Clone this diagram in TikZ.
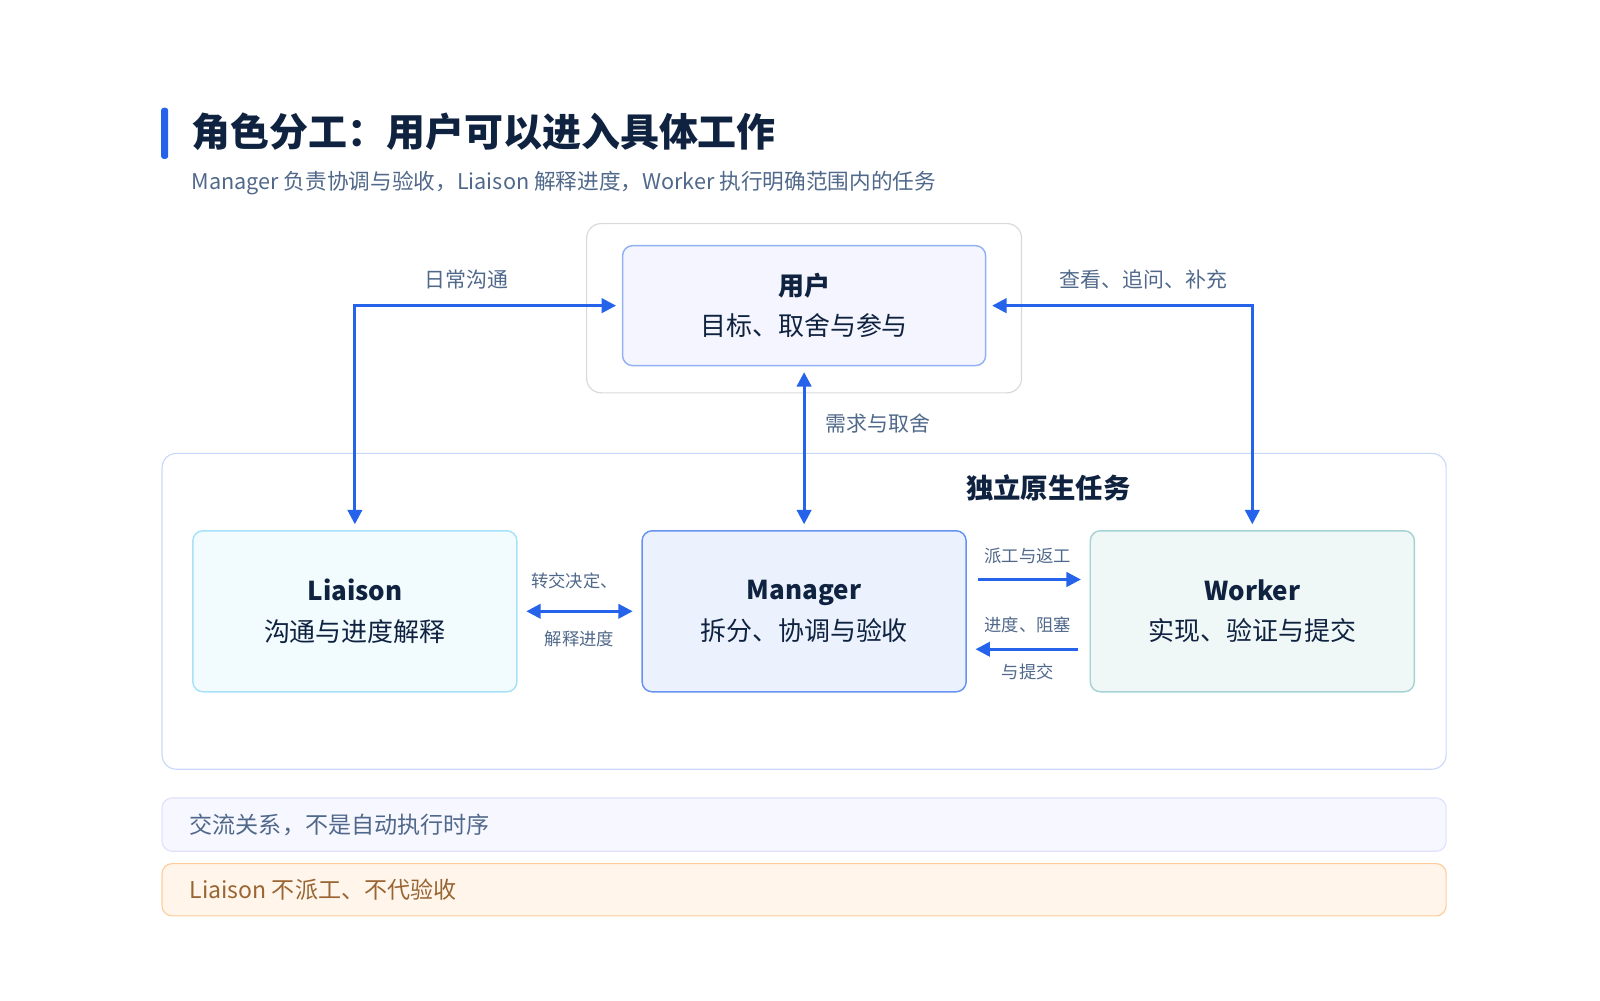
\documentclass[tikz,border=0pt]{standalone}
\usepackage{fontspec}
\setmainfont{Noto Sans CJK SC}
\usetikzlibrary{arrows.meta,positioning}
\definecolor{flow}{HTML}{2563EB}
\definecolor{ink}{HTML}{0F2340}
\definecolor{muted}{HTML}{50688A}
\tikzset{
  card/.style={draw,rounded corners=7pt,line width=1pt,minimum width=316*0.025cm,minimum height=157*0.025cm,align=center,text=ink,font=\fontsize{18}{28}\selectfont},
  frame/.style={draw=#1,rounded corners=10pt,line width=0.8pt},
  link/.style={draw=flow,line width=2pt,-{Triangle[length=10pt,width=10pt]}},
  twin/.style={link,{Triangle[length=10pt,width=10pt]}-{Triangle[length=10pt,width=10pt]}},
  tag/.style={text=muted,font=\fontsize{14.5}{18}\selectfont},
  small/.style={text=muted,font=\fontsize{12}{15}\selectfont},
}
\begin{document}
\begin{tikzpicture}[x=0.025cm,y=-0.025cm]
\useasboundingbox (0,0) rectangle (1560,975);
% heading
\fill[flow,rounded corners=2pt] (157,105) rectangle (164,155);
\node[anchor=west,text=ink,font=\fontsize{27}{32}\selectfont\bfseries] (title) at (182,128) {角色分工：用户可以进入具体工作};
\node[anchor=west,text=muted,font=\fontsize{15}{20}\selectfont] (sub) at (182,178) {Manager 负责协调与验收，Liaison 解释进度，Worker 执行明确范围内的任务};
% frames
\draw[frame=black!15] (572,218) rectangle (996,383);
\draw[frame=flow!25] (158,442) rectangle (1410,750);
\node[text=ink,font=\fontsize{19}{24}\selectfont\bfseries] (scope) at (1022,476) {独立原生任务};
% cards
\node[card,fill=blue!4,draw=flow!50,minimum width=354*0.025cm,minimum height=117*0.025cm] (user) at (784,298) {\textbf{用户}\\目标、取舍与参与};
\node[card,fill=cyan!5,draw=cyan!35] (liaison) at (346,596) {\textbf{Liaison}\\沟通与进度解释};
\node[card,fill=flow!9,draw=flow!70] (manager) at (784,596) {\textbf{Manager}\\拆分、协调与验收};
\node[card,fill=teal!6,draw=teal!35] (worker) at (1221,596) {\textbf{Worker}\\实现、验证与提交};
% connectors
\draw[twin,shorten <=4pt,shorten >=4pt] (liaison.north) |- (user.west);
\draw[twin,shorten <=4pt,shorten >=4pt] (worker.north) |- (user.east);
\draw[twin,shorten <=4pt,shorten >=4pt] (manager.north) -- (user.south);
\draw[twin,shorten <=6pt,shorten >=6pt] (liaison.east) -- (manager.west);
\draw[link,shorten <=8pt,shorten >=6pt] ([yshift=31*0.025cm]manager.east) -- ([yshift=31*0.025cm]worker.west);
\draw[link,shorten <=8pt,shorten >=6pt] ([yshift=-37*0.025cm]worker.west) -- ([yshift=-37*0.025cm]manager.east);
% labels
\node[tag] (l1) at (455,273) {日常沟通};
\node[tag] (l2) at (1115,273) {查看、追问、补充};
\node[tag] (l3) at (856,413) {需求与取舍};
\node[small] (l4) at (560,566) {转交决定、};
\node[small] (l5) at (565,623) {解释进度};
\node[small] (l6) at (1002,542) {派工与返工};
\node[small] (l7) at (1002,609) {进度、阻塞};
\node[small] (l8) at (1002,655) {与提交};
% notes
\draw[frame=blue!12,fill=blue!3,rounded corners=7pt] (158,778) rectangle (1410,830);
\node[anchor=west,text=muted,font=\fontsize{16}{20}\selectfont] (n1) at (180,804) {交流关系，不是自动执行时序};
\draw[frame=orange!40,fill=orange!8,rounded corners=7pt] (158,842) rectangle (1410,893);
\node[anchor=west,text=brown!80!black,font=\fontsize{16}{20}\selectfont] (n2) at (180,867) {Liaison 不派工、不代验收};
\end{tikzpicture}
\end{document}
